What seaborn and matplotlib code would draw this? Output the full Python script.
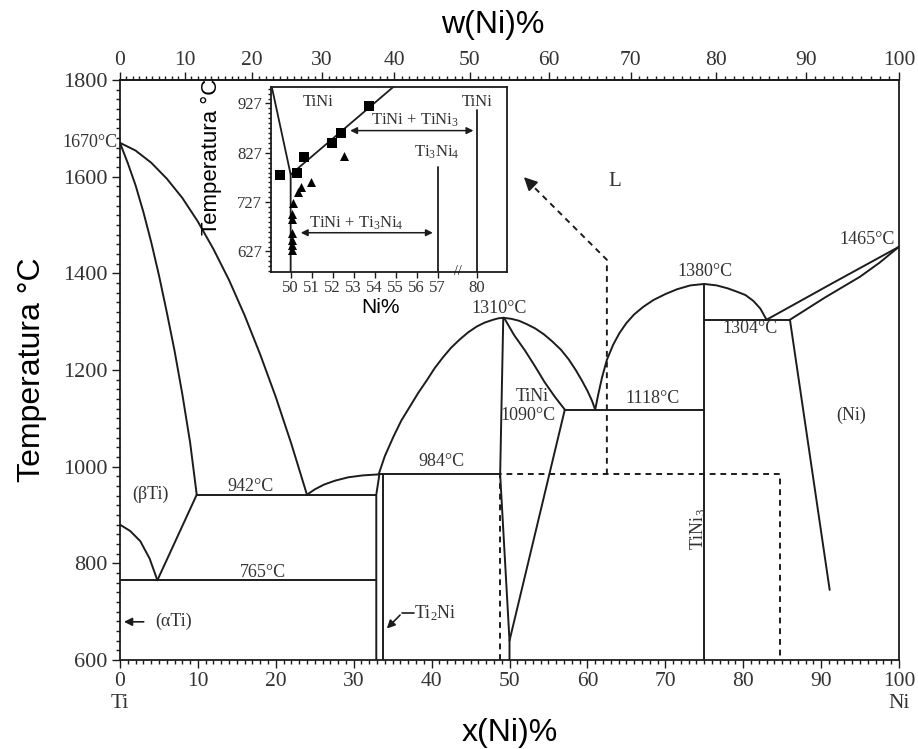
import numpy as np
import pandas as pd
import matplotlib
matplotlib.use("Agg")
import matplotlib.pyplot as plt
import matplotlib.transforms as mtransforms
from matplotlib.ticker import FixedLocator, MultipleLocator
import seaborn as sns

# ------------------------------------------------------------------ data
# main diagram: x = at.% Ni, T = degC
ti_liq_x = [0, 2, 4, 6, 8, 10, 12, 14, 16, 18, 20, 22, 24.0]
ti_liq_T = [1670, 1654, 1629, 1596, 1556, 1507, 1450, 1386, 1313, 1232, 1144, 1047, 942]
bti_sol_x = [0, 1, 2, 3, 4, 5, 6, 7, 8, 9, 9.85]
bti_sol_T = [1670, 1628, 1582, 1527, 1465, 1396, 1320, 1240, 1150, 1050, 942]
transus_x = [0, 1.3, 2.6, 3.8, 4.8]
transus_T = [880, 867, 846, 810, 765]
bsolvus_x = [4.8, 9.85]
bsolvus_T = [765, 942]
eut942_x = [9.85, 32.9]
eut942_T = [942, 942]
eutd765_x = [0, 32.9]
eutd765_T = [765, 765]
liq2_x = [24.0, 25.0, 26.2, 27.6, 29.3, 31.2, 33.2]
liq2_T = [942, 953, 963, 971, 978, 982, 984]
ti2ni_l_x = [32.9, 32.9, 33.3]
ti2ni_l_T = [600, 942, 984]
ti2ni_r_x = [33.8, 33.8]
ti2ni_r_T = [600, 984]
per984_x = [33.2, 48.8]
per984_T = [984, 984]
tini_liq_x = [33.2, 34.0, 35.1, 36.1, 37.2, 38.3, 39.4, 40.4, 41.5, 42.5, 43.6, 44.7,
              45.8, 46.8, 47.9, 48.6, 49.2, 50.2, 51.2, 52.2, 53.3, 54.4, 55.5, 56.6,
              57.6, 58.5, 59.3, 60.0, 60.6, 61.0]
tini_liq_T = [984, 1022, 1062, 1095, 1124, 1153, 1179, 1204, 1227, 1246, 1263, 1278,
              1290, 1298, 1304, 1307, 1308, 1306, 1302, 1295, 1286, 1274, 1259, 1242,
              1222, 1200, 1178, 1157, 1136, 1118]
tini_left_x = [49.2, 48.8, 50.0, 50.0]
tini_left_T = [1308, 984, 640, 600]
tini_sol_x = [49.3, 50.6, 52.0, 53.3, 54.5, 55.8, 57.1]
tini_sol_T = [1308, 1272, 1240, 1207, 1175, 1145, 1118]
tini_solv_x = [50.0, 57.1]
tini_solv_T = [640, 1118]
eut1118_x = [57.1, 75.0]
eut1118_T = [1118, 1118]
tini3_liq_x = [61.0, 61.4, 61.9, 62.5, 63.3, 64.1, 65.0, 66.0, 67.2, 68.5, 70.0, 71.5,
               73.2, 75.0, 76.6, 78.0, 79.2, 80.3, 81.3, 82.2, 83.0]
tini3_liq_T = [1118, 1150, 1186, 1221, 1252, 1276, 1297, 1315, 1331, 1345, 1357, 1367,
               1375, 1378, 1375, 1369, 1362, 1355, 1343, 1327, 1304]
tini3_x = [75.0, 75.0]
tini3_T = [600, 1378]
eut1304_x = [75.0, 86.0]
eut1304_T = [1304, 1304]
ni_liq_x = [83.0, 91.5, 100]
ni_liq_T = [1304, 1380, 1455]
ni_sol_x = [86.0, 90.5, 95.0, 97.5, 100]
ni_sol_T = [1304, 1350, 1393, 1422, 1455]
ni_solv_x = [86.0, 91.1]
ni_solv_T = [1304, 745]
# dashed (metastable) lines
dash1_x = [48.8, 48.8, 84.7, 84.7]
dash1_T = [600, 984, 984, 600]
dash2_x = [62.5, 62.5, 53.1]
dash2_T = [984, 1428, 1579]

# inset: x = Ni %, T = degC
in_left_x = [49.1, 50.0, 50.0]
in_left_T = [961, 783, 586]
in_solvus_x = [50.0, 54.9]
in_solvus_T = [783, 961]
in_ti3ni4_x = [57, 57]
in_ti3ni4_T = [586, 799]
in_tini3_x = [80, 80]
in_tini3_T = [586, 913]
sq_x = [49.49, 50.29, 50.65, 51.95, 52.40, 53.73]
sq_T = [783, 787, 819, 847, 867, 921]
tri_x = [52.54, 50.97, 50.49, 50.36, 50.12, 50.05, 50.05, 50.05, 50.05, 50.05, 50.05]
tri_T = [821, 767, 757, 747, 726, 703, 692, 665, 651, 641, 631]
in_xticks = [50, 51, 52, 53, 54, 55, 56, 57, 80]
in_yticks = [627, 727, 827, 927]

main_xticks = list(range(0, 101, 10))
main_xticklabels = ["0\nTi"] + [str(v) for v in range(10, 100, 10)] + ["100\nNi"]
main_yticks = list(range(600, 1801, 200))
top_ticks = list(range(0, 101, 10))

# ------------------------------------------------------------------ style
sns.set_theme(style="ticks")
plt.rcParams["font.family"] = ["Liberation Serif", "DejaVu Serif"]
plt.rcParams["mathtext.fontset"] = "custom"
plt.rcParams["mathtext.rm"] = "Liberation Serif"
plt.rcParams["mathtext.it"] = "Liberation Serif:italic"
INK = "#1c1c1c"
TXT = "#333333"
SANS = ["Liberation Sans", "DejaVu Sans"]

fig = plt.figure(figsize=(9.18, 7.49), dpi=100)
ax = fig.add_axes([120 / 918, 1 - 660 / 749, 779 / 918, 580 / 749])


def segs_df(pairs):
    rows = []
    for i, (xs, ts) in enumerate(pairs):
        for k, (xv, tv) in enumerate(zip(xs, ts)):
            rows.append({"seg": i, "order": k, "x": xv, "T": tv})
    return pd.DataFrame(rows)


solid = segs_df([
    (ti_liq_x, ti_liq_T), (bti_sol_x, bti_sol_T), (transus_x, transus_T),
    (bsolvus_x, bsolvus_T), (eut942_x, eut942_T), (eutd765_x, eutd765_T),
    (liq2_x, liq2_T), (ti2ni_l_x, ti2ni_l_T), (ti2ni_r_x, ti2ni_r_T),
    (per984_x, per984_T), (tini_liq_x, tini_liq_T), (tini_left_x, tini_left_T),
    (tini_sol_x, tini_sol_T), (tini_solv_x, tini_solv_T), (eut1118_x, eut1118_T),
    (tini3_liq_x, tini3_liq_T), (tini3_x, tini3_T), (eut1304_x, eut1304_T),
    (ni_liq_x, ni_liq_T), (ni_sol_x, ni_sol_T), (ni_solv_x, ni_solv_T),
])
dashed = segs_df([(dash1_x, dash1_T), (dash2_x, dash2_T)])

sns.lineplot(data=solid, x="x", y="T", units="seg", estimator=None, sort=False,
             color=INK, linewidth=1.4, ax=ax, legend=False)
sns.lineplot(data=dashed, x="x", y="T", units="seg", estimator=None, sort=False,
             color=INK, linewidth=1.4, linestyle=(0, (3, 2.5)), ax=ax, legend=False)
ax.annotate("", xy=(51.6, 1603), xytext=(53.1, 1579),
            arrowprops=dict(arrowstyle="-|>", color=INK, lw=1.2, mutation_scale=20))

ax.set_xlim(0, 100)
ax.set_ylim(600, 1800)
ax.xaxis.set_major_locator(FixedLocator(main_xticks))
ax.set_xticklabels(main_xticklabels)
ax.xaxis.set_minor_locator(MultipleLocator(1))
ax.yaxis.set_major_locator(FixedLocator(main_yticks))
ax.yaxis.set_minor_locator(MultipleLocator(20))
ax.tick_params(axis="both", which="both", direction="out", colors=INK,
               labelcolor=TXT, top=False, right=False, width=1)
ax.tick_params(axis="both", which="major", length=6)
ax.tick_params(axis="both", which="minor", length=3)
ax.tick_params(axis="x", labelsize=15.5, pad=3)
ax.tick_params(axis="y", labelsize=16, pad=3)
for s in ax.spines.values():
    s.set_color(INK)
    s.set_linewidth(1.3)

ax.set_xlabel("x(Ni)%", fontfamily=SANS, fontsize=23, color="black")
ax.xaxis.set_label_coords(0.5006, (660 - 733) / 580)
ax.xaxis.label.set_va("center")
ax.set_ylabel("Temperatura °C", fontfamily=SANS, fontsize=23, color="black")
ax.yaxis.set_label_coords((32 - 120) / 779, 0.5)
ax.yaxis.label.set_va("center")


def at2wt(x):
    x = np.asarray(x, dtype=float)
    return 100 * 58.69 * x / (58.69 * x + 47.87 * (100 - x))


def wt2at(w):
    w = np.asarray(w, dtype=float)
    a = w / 58.69
    b = (100 - w) / 47.87
    return 100 * a / (a + b)


sec = ax.secondary_xaxis("top", functions=(at2wt, wt2at))
sec.xaxis.set_major_locator(FixedLocator(top_ticks))
sec.xaxis.set_minor_locator(MultipleLocator(1))
sec.tick_params(axis="x", which="both", direction="out", colors=INK,
                labelcolor=TXT, labelsize=15.5, width=1, pad=1)
sec.tick_params(axis="x", which="major", length=6)
sec.tick_params(axis="x", which="minor", length=3)
sec.spines["top"].set_color(INK)
sec.spines["top"].set_linewidth(1.3)
fig.text(493 / 918, 1 - 25 / 749, "w(Ni)%", fontfamily=SANS, fontsize=23,
         color="black", ha="center", va="center")

# ------------------------------------------------------------------ labels
lab = dict(fontsize=13, color=TXT)
ax.text(-0.3, 1670, "1670°C", ha="right", va="center", clip_on=False, **lab)
ax.text(3.85, 943, "(βTi)", ha="center", va="center", **lab)
ax.text(16.7, 958, "942°C", ha="center", va="center", **lab)
ax.text(18.4, 781, "765°C", ha="center", va="center", **lab)
ax.text(6.85, 679, "(αTi)", ha="center", va="center", **lab)
ax.annotate("", xy=(0.15, 679), xytext=(3.4, 679),
            arrowprops=dict(arrowstyle="-|>", color=INK, lw=1.2, mutation_scale=12))
ax.text(37.8, 697, "Ti$_2$Ni", ha="left", va="center", **lab)
ax.plot([37.7, 36.2], [697, 697], color=INK, lw=1.2)
ax.annotate("", xy=(34.0, 661), xytext=(36.2, 697),
            arrowprops=dict(arrowstyle="-|>", color=INK, lw=1.2, mutation_scale=12))
ax.text(41.3, 1010, "984°C", ha="center", va="center", **lab)
ax.text(48.7, 1328, "1310°C", ha="center", va="center", **lab)
ax.text(52.85, 1145, "TiNi", ha="center", va="center", **lab)
ax.text(52.4, 1105, "1090°C", ha="center", va="center", **lab)
ax.text(68.3, 1141, "1118°C", ha="center", va="center", **lab)
ax.text(75.1, 1403, "1380°C", ha="center", va="center", **lab)
ax.text(80.9, 1286, "1304°C", ha="center", va="center", **lab)
ax.text(99.5, 1469, "1465°C", ha="right", va="center", **lab)
ax.text(63.5, 1590, "L", ha="center", va="center", fontsize=15, color=TXT)
ax.text(93.9, 1107, "(Ni)", ha="center", va="center", **lab)
ax.text(74.2, 872, "TiNi$_3$", ha="center", va="center", rotation=90, **lab)

# ------------------------------------------------------------------ inset
axin = fig.add_axes([270.7 / 918, 1 - 271.7 / 749, 236.3 / 918, 185 / 749])
axin.set_facecolor("white")

BRK = 57.5
SC = (58.857 - BRK) / (80 - BRK)


def fwd(x):
    x = np.asarray(x, dtype=float)
    return np.where(x <= BRK, x, BRK + (x - BRK) * SC)


def inv(u):
    u = np.asarray(u, dtype=float)
    return np.where(u <= BRK, u, BRK + (u - BRK) / SC)


inset_lines = segs_df([(in_left_x, in_left_T), (in_solvus_x, in_solvus_T),
                       (in_ti3ni4_x, in_ti3ni4_T), (in_tini3_x, in_tini3_T)])
sns.lineplot(data=inset_lines, x="x", y="T", units="seg", estimator=None, sort=False,
             color=INK, linewidth=1.3, ax=axin, legend=False)
sns.scatterplot(x=sq_x, y=sq_T, marker="s", color="black", s=60, linewidth=0,
                ax=axin, zorder=4)
sns.scatterplot(x=tri_x, y=tri_T, marker="^", color="black", s=42, linewidth=0,
                ax=axin, zorder=4)
axin.set_xscale("function", functions=(fwd, inv))
axin.set_xlim(49.05, 103.9)
axin.set_ylim(586, 961)

axin.annotate("", xy=(52.7, 872), xytext=(79.6, 872),
              arrowprops=dict(arrowstyle="<|-|>", color=INK, lw=1.1, mutation_scale=10))
axin.annotate("", xy=(50.35, 665), xytext=(56.9, 665),
              arrowprops=dict(arrowstyle="<|-|>", color=INK, lw=1.1, mutation_scale=10))
ilab = dict(fontsize=12, color=TXT)
axin.text(51.31, 930, "TiNi", ha="center", va="center", **ilab)
axin.text(80, 930, "TiNi", ha="center", va="center", **ilab)
axin.text(55.92, 893, "TiNi + TiNi$_3$", ha="center", va="center", **ilab)
axin.text(56.95, 828, "Ti$_3$Ni$_4$", ha="center", va="center", **ilab)
axin.text(53.14, 685, "TiNi + Ti$_3$Ni$_4$", ha="center", va="center", **ilab)
brk_tr = mtransforms.blended_transform_factory(axin.transData, axin.transAxes)
axin.text(65.3, 0.0, "//", transform=brk_tr, ha="center", va="center",
          fontsize=10, color=INK, clip_on=False)

axin.xaxis.set_major_locator(FixedLocator(in_xticks))
axin.set_xticklabels([str(v) for v in in_xticks])
axin.xaxis.set_minor_locator(FixedLocator([]))
axin.yaxis.set_major_locator(FixedLocator(in_yticks))
axin.yaxis.set_minor_locator(FixedLocator(list(range(587, 961, 10))))
axin.tick_params(axis="both", which="both", direction="out", colors=INK,
                 labelcolor=TXT, labelsize=12, top=False, right=False, width=1)
axin.tick_params(axis="both", which="major", length=4, pad=2)
axin.tick_params(axis="y", which="minor", length=2)
for s in axin.spines.values():
    s.set_color(INK)
    s.set_linewidth(1.3)
axin.set_xlabel("Ni%", fontfamily=SANS, fontsize=15, color="black")
axin.xaxis.set_label_coords(0.4626, -0.196)
axin.xaxis.label.set_va("center")
axin.set_ylabel("Temperatura °C", fontfamily=SANS, fontsize=16, color="black")
axin.yaxis.set_label_coords(-0.25, 0.62)
axin.yaxis.label.set_va("center")

fig.savefig("out.png", dpi=100, facecolor="white")
